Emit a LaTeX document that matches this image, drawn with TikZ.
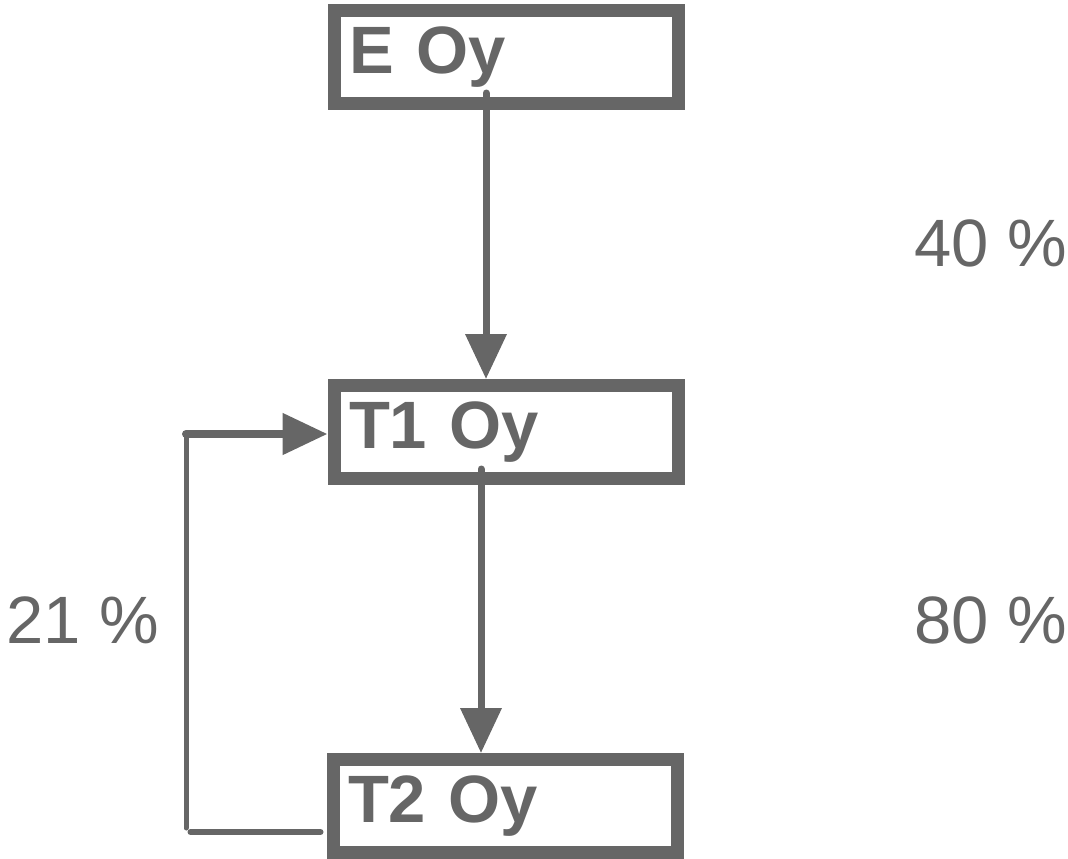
\documentclass[tikz,border=0pt]{standalone}
\usepackage{fontspec}
\setmainfont{Liberation Sans}
\usepackage{xcolor}
\usepackage{tikz}
\definecolor{boxgray}{HTML}{666666}
\usetikzlibrary{arrows.meta}

\begin{document}
\begin{tikzpicture}[x=1pt, y=-1pt, >={Triangle[length=45pt, width=40pt]},
			line width=7pt, line cap=round, color=boxgray,
			box/.style={draw, line width=13pt, minimum width=344pt,
				minimum height=93pt, text width=314pt, inner xsep=15pt,
				inner ysep=0pt, font=\fontsize{67}{76}\selectfont\bfseries},
			pct/.style={anchor=base west, inner sep=0pt,
				font=\fontsize{67}{76}\selectfont}]
		\useasboundingbox (0, 0) rectangle (1068, 859);

		\node[box] (eoy) at (506, 57) {E Oy};
		\node[box] (tone) at (506, 432) {T1 Oy};
		\node[box] (ttwo) at (505, 806) {T2 Oy};

		\node[pct] (pforty) at (911, 266) {40 \%};
		\node[pct] (peighty) at (911, 643) {80 \%};
		\node[pct] (ptwentyone) at (3, 643) {21 \%};

		\coordinate (looptop) at (186, 434);
		\coordinate (loopbot) at (186, 828);

		\draw[->] ([xshift=-20pt, yshift=17pt]eoy.south) -- ([xshift=-20pt]tone.north);
		\draw[->] ([xshift=-25pt, yshift=16pt]tone.south) -- ([xshift=-24pt]ttwo.north);
		\draw[line width=5pt] (looptop) -- (loopbot);
		\draw[line width=6pt] ([xshift=-6pt, yshift=-26pt]ttwo.west) -- ++(-130, 0);
		\draw[->, line width=8pt] (looptop) -- (looptop -| tone.west);
	\end{tikzpicture}
\end{document}
